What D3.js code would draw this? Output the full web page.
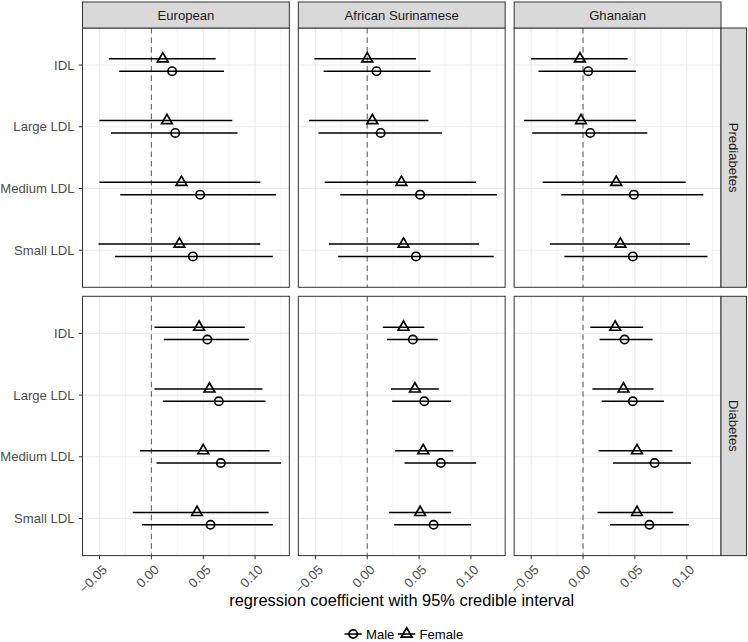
<!DOCTYPE html>
<html>
<head>
<meta charset="utf-8">
<script src="https://cdn.jsdelivr.net/npm/d3@7"></script>
<style>
  body { margin: 0; background: #fff; }
  text { font-family: "Liberation Sans", Arial, sans-serif; }
</style>
</head>
<body>
<div id="chart"></div>
<script>
const races = ["European", "African Surinamese", "Ghanaian"];
const conditions = ["Prediabetes", "Diabetes"];
const lipids = ["IDL", "Large LDL", "Medium LDL", "Small LDL"];
const sexes = ["Male", "Female"];
const xTicks = [-0.05, 0, 0.05, 0.10];
const xMinor = [-0.025, 0.025, 0.075, 0.125];

// [condition][race][lipid]
const maleEst = [
  [[0.020, 0.023, 0.047, 0.040], [0.009, 0.013, 0.051, 0.047], [0.005, 0.007, 0.049, 0.048]],
  [[0.054, 0.065, 0.067, 0.057], [0.044, 0.055, 0.071, 0.064], [0.040, 0.048, 0.069, 0.064]]
];
const maleLo = [
  [[-0.031, -0.039, -0.030, -0.035], [-0.042, -0.047, -0.026, -0.028], [-0.043, -0.049, -0.021, -0.018]],
  [[0.012, 0.011, 0.005, -0.009], [0.019, 0.024, 0.036, 0.026], [0.016, 0.018, 0.029, 0.026]]
];
const maleHi = [
  [[0.070, 0.083, 0.120, 0.117], [0.061, 0.072, 0.125, 0.122], [0.051, 0.062, 0.116, 0.120]],
  [[0.094, 0.110, 0.125, 0.117], [0.068, 0.081, 0.105, 0.100], [0.067, 0.078, 0.104, 0.102]]
];
const femaleEst = [
  [[0.011, 0.015, 0.029, 0.027], [0.000, 0.005, 0.033, 0.035], [-0.003, -0.002, 0.032, 0.036]],
  [[0.046, 0.056, 0.050, 0.044], [0.035, 0.046, 0.054, 0.051], [0.031, 0.039, 0.052, 0.052]]
];
const femaleLo = [
  [[-0.041, -0.050, -0.050, -0.051], [-0.051, -0.056, -0.041, -0.037], [-0.050, -0.057, -0.039, -0.032]],
  [[0.003, 0.003, -0.011, -0.018], [0.015, 0.023, 0.027, 0.021], [0.007, 0.009, 0.015, 0.014]]
];
const femaleHi = [
  [[0.062, 0.078, 0.105, 0.105], [0.047, 0.059, 0.105, 0.108], [0.043, 0.051, 0.099, 0.103]],
  [[0.090, 0.107, 0.114, 0.113], [0.055, 0.069, 0.083, 0.081], [0.058, 0.068, 0.086, 0.087]]
];

let w = 748, h = 642;
let padL = 82.5, padR = 721, padT = 28, stripH = 26, gap = 9, panelH = 259.3;
let panelW = (padR - padL - 2 * gap) / 3;

const svg = d3.select("#chart")
  .append("svg")
  .attr("width", w)
  .attr("height", h);

const xScale = d3.scaleLinear()
  .domain([-0.0664, 0.133])
  .range([0, panelW]);

const yScale = d3.scalePoint()
  .domain(lipids)
  .range([0, panelH])
  .padding(0.6);

let dodge = 0.1 * yScale.step();

// build rows of data
let rows = [];
conditions.forEach((c, ci) => races.forEach((r, ri) => lipids.forEach((l, li) => {
  rows.push({ci, ri, lipid: l, sex: "Male", est: maleEst[ci][ri][li], lo: maleLo[ci][ri][li], hi: maleHi[ci][ri][li]});
  rows.push({ci, ri, lipid: l, sex: "Female", est: femaleEst[ci][ri][li], lo: femaleLo[ci][ri][li], hi: femaleHi[ci][ri][li]});
})));

let yOf = d => yScale(d.lipid) + (d.sex == "Male" ? dodge : -dodge);
let triangle = d3.symbol(d3.symbolTriangle, 50);

conditions.forEach((c, ci) => {
  races.forEach((r, ri) => {
    let px = padL + ri * (panelW + gap), py = padT + ci * (panelH + gap);
    let g = svg.append("g").attr("transform", "translate(" + px + "," + py + ")");

    // grid
    g.selectAll(".minor").data(xMinor).enter().append("line")
      .attr("x1", d => xScale(d)).attr("x2", d => xScale(d))
      .attr("y1", 0).attr("y2", panelH)
      .attr("stroke", "#ebebeb").attr("stroke-width", 0.6);
    g.selectAll(".major").data(xTicks).enter().append("line")
      .attr("x1", d => xScale(d)).attr("x2", d => xScale(d))
      .attr("y1", 0).attr("y2", panelH)
      .attr("stroke", "#ebebeb").attr("stroke-width", 1.1);
    g.selectAll(".hgrid").data(lipids).enter().append("line")
      .attr("x1", 0).attr("x2", panelW)
      .attr("y1", d => yScale(d)).attr("y2", d => yScale(d))
      .attr("stroke", "#ebebeb").attr("stroke-width", 1.1);

    // zero reference
    g.append("line")
      .attr("x1", xScale(0)).attr("x2", xScale(0))
      .attr("y1", 0).attr("y2", panelH)
      .attr("stroke", "#666").attr("stroke-width", 1.1)
      .attr("stroke-dasharray", "5.5,4");

    let pd = rows.filter(d => d.ci == ci && d.ri == ri);

    g.selectAll(".bar").data(pd).enter().append("line")
      .attr("x1", d => xScale(d.lo)).attr("x2", d => xScale(d.hi))
      .attr("y1", yOf).attr("y2", yOf)
      .attr("stroke", "#000").attr("stroke-width", 1.5);

    g.selectAll(".male").data(pd.filter(d => d.sex == "Male")).enter().append("circle")
      .attr("cx", d => xScale(d.est)).attr("cy", yOf)
      .attr("r", 4.2)
      .attr("fill", "none").attr("stroke", "#000").attr("stroke-width", 1.7);

    g.selectAll(".female").data(pd.filter(d => d.sex == "Female")).enter().append("path")
      .attr("d", triangle)
      .attr("transform", d => "translate(" + xScale(d.est) + "," + yOf(d) + ")")
      .attr("fill", "none").attr("stroke", "#000").attr("stroke-width", 1.7);

    // border
    g.append("rect")
      .attr("width", panelW).attr("height", panelH)
      .attr("fill", "none").attr("stroke", "#333").attr("stroke-width", 1);

    // top strips
    if (ci == 0) {
      let s = svg.append("g").attr("transform", "translate(" + px + "," + (padT - stripH) + ")");
      s.append("rect").attr("width", panelW).attr("height", stripH)
        .attr("fill", "#d9d9d9").attr("stroke", "#333").attr("stroke-width", 1);
      s.append("text").text(r)
        .attr("x", panelW / 2).attr("y", stripH / 2).attr("dy", "0.35em")
        .attr("text-anchor", "middle").attr("font-size", "13.1px").attr("fill", "#1a1a1a");
    }

    // right strips
    if (ri == 2) {
      let s = svg.append("g").attr("transform", "translate(" + (px + panelW) + "," + py + ")");
      s.append("rect").attr("width", 25.5).attr("height", panelH)
        .attr("fill", "#d9d9d9").attr("stroke", "#333").attr("stroke-width", 1);
      s.append("text").text(c)
        .attr("transform", "translate(" + 12.75 + "," + (panelH / 2) + ") rotate(90)")
        .attr("dy", "0.35em")
        .attr("text-anchor", "middle").attr("font-size", "13.1px").attr("fill", "#1a1a1a");
    }

    // y axis
    if (ri == 0) {
      let a = g.append("g");
      a.selectAll("line").data(lipids).enter().append("line")
        .attr("x1", -3.7).attr("x2", 0)
        .attr("y1", d => yScale(d)).attr("y2", d => yScale(d))
        .attr("stroke", "#333").attr("stroke-width", 1);
      a.selectAll("text").data(lipids).enter().append("text")
        .text(d => d)
        .attr("x", -8).attr("y", d => yScale(d)).attr("dy", "0.35em")
        .attr("text-anchor", "end").attr("font-size", "13.1px").attr("fill", "#4d4d4d");
    }

    // x axis
    if (ci == 1) {
      let a = g.append("g").attr("transform", "translate(0," + panelH + ")");
      a.selectAll("line").data(xTicks).enter().append("line")
        .attr("x1", d => xScale(d)).attr("x2", d => xScale(d))
        .attr("y1", 0).attr("y2", 3.7)
        .attr("stroke", "#333").attr("stroke-width", 1);
      a.selectAll("text").data(xTicks).enter().append("text")
        .text(d => d3.format(".2f")(d))
        .attr("transform", d => "translate(" + (xScale(d) + 1.5) + "," + 8 + ") rotate(-45)")
        .attr("dy", "0.75em")
        .attr("text-anchor", "end").attr("font-size", "13.1px").attr("fill", "#4d4d4d");
    }
  });
});

// axis title
svg.append("text")
  .text("regression coefficient with 95% credible interval")
  .attr("x", (padL + padR) / 2).attr("y", 606)
  .attr("text-anchor", "middle").attr("font-size", "16.4px").attr("fill", "#000");

// legend
let legend = svg.append("g").attr("transform", "translate(0,634)");
let keyX = [344.5, 398];
sexes.forEach((s, i) => {
  let k = legend.append("g").attr("transform", "translate(" + keyX[i] + ",0)");
  k.append("line").attr("x1", 0).attr("x2", 17.3).attr("y1", 0).attr("y2", 0)
    .attr("stroke", "#000").attr("stroke-width", 1.5);
  if (s == "Male") {
    k.append("circle").attr("cx", 8.65).attr("cy", 0).attr("r", 4.2)
      .attr("fill", "none").attr("stroke", "#000").attr("stroke-width", 1.7);
  } else {
    k.append("path").attr("d", triangle).attr("transform", "translate(8.65,0)")
      .attr("fill", "none").attr("stroke", "#000").attr("stroke-width", 1.7);
  }
  k.append("text").text(s)
    .attr("x", 21.5).attr("y", 0).attr("dy", "0.35em")
    .attr("font-size", "13.1px").attr("fill", "#000");
});
</script>
</body>
</html>
